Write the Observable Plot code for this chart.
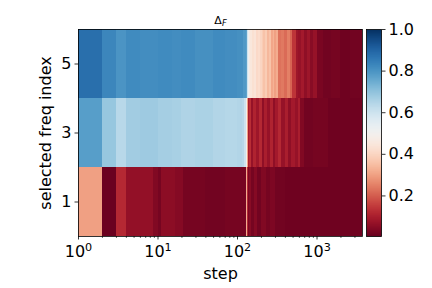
<!DOCTYPE html>
<html>
<head>
<meta charset="utf-8">
<script src="https://cdn.jsdelivr.net/npm/d3@7"></script>
<script src="https://cdn.jsdelivr.net/npm/@observablehq/plot@0.6"></script>
<style>
  html, body { margin: 0; padding: 0; background: white; }
  #wrap { position: relative; width: 432px; height: 288px; overflow: hidden; font-family: "DejaVu Sans", sans-serif; }
  #wrap > div, #wrap > svg { position: absolute; top: 0; }
</style>
</head>
<body>
<div id="wrap"></div>
<script>
// ---- data ----
const rowIndex = [1, 3, 5];
const titleParts = ["Δ", "F"];
const xLabel = "step";
const yLabel = "selected freq index";
const xMajorTicks = [1, 10, 100, 1000];
const xMajorExponents = ["0", "1", "2", "3"];
const xMinorTicks = [2,3,4,5,6,7,8,9,20,30,40,50,60,70,80,90,200,300,400,500,600,700,800,900,2000,3000];
const xDomain = [1, 3733];
const yTicks = [1, 3, 5];
const yTickLabels = ["1", "3", "5"];
const colorTicks = [0.2, 0.4, 0.6, 0.8, 1.0];
const colorTickLabels = ["0.2", "0.4", "0.6", "0.8", "1.0"];
const colorDomain = [0.005, 1];

// row 5 (top)
const edges5 = [1,2,3,4,6,10,15,20,30,50,70,100,118,128,133,137,141,147,155,165,175,185,195,205,215,228,240,252,265,280,295,310,332,360,390,420,460,497,547,590,640,700,760,830,900,1000,1200,1500,2000,2600,3733];
const values5 = [0.88,0.83,0.80,0.82,0.815,0.82,0.815,0.82,0.81,0.82,0.815,0.81,0.79,0.77,0.60,0.52,0.47,0.45,0.43,0.44,0.41,0.42,0.40,0.38,0.36,0.38,0.34,0.36,0.31,0.33,0.30,0.32,0.23,0.24,0.22,0.25,0.21,0.14,0.08,0.07,0.09,0.06,0.08,0.05,0.07,0.03,0.02,0.025,0.015,0.02];
// row 3 (middle)
const edges3 = [1,2,3,4,6,10,15,20,30,50,70,100,117,124,129,133,136,140,150,160,175,190,205,220,240,260,280,300,330,360,400,440,480,530,580,620,700,900,1400,3733];
const values3 = [0.78,0.69,0.64,0.675,0.68,0.67,0.665,0.655,0.66,0.65,0.645,0.65,0.64,0.60,0.50,0.30,0.10,0.13,0.07,0.11,0.08,0.12,0.06,0.10,0.07,0.11,0.06,0.09,0.12,0.07,0.10,0.06,0.09,0.07,0.10,0.04,0.02,0.025,0.015];
// row 1 (bottom)
const edges1 = [1,2,3,4,8.7,10,11,16.5,21,40,70,129,132,136,140,150,165,180,200,230,260,300,400,3733];
const values1 = [0.30,0.01,0.12,0.065,0.04,0.025,0.055,0.045,0.025,0.02,0.025,0.32,0.12,0.03,0.05,0.025,0.045,0.02,0.04,0.025,0.035,0.02,0.015];

// ---- build table for the library ----
const rows = [[1, edges1, values1], [3, edges3, values3], [5, edges5, values5]];
const cells = [];
for (const [r, e, v] of rows) {
  for (let i = 0; i < v.length; i++) {
    cells.push({x1: e[i], x2: e[i + 1], y1: r - 1, y2: r + 1, v: v[i]});
  }
}

const W = 432, H = 288;
const mTop = 29, mBottom = 52, mLeft = 78, mRight = 70;
const font = "DejaVu Sans";

const colorScale = {type: "linear", scheme: "RdBu", domain: colorDomain, clamp: true};

const main = Plot.plot({
  width: W, height: H,
  marginTop: mTop, marginBottom: mBottom, marginLeft: mLeft, marginRight: mRight,
  style: {fontFamily: font, background: "white", color: "black"},
  x: {type: "log", domain: xDomain, axis: null},
  y: {domain: [0, 6], axis: null},
  color: colorScale,
  marks: [
    Plot.rect(cells, {x1: "x1", x2: "x2", y1: "y1", y2: "y2", fill: "v", shapeRendering: "crispEdges"}),
    Plot.axisX({ticks: xMinorTicks, tickSize: 2, tickFormat: () => "", strokeWidth: 0.6, label: null}),
    Plot.axisX({ticks: xMajorTicks, tickSize: 3.5, tickPadding: 5.5, fontSize: 16, strokeWidth: 0.8,
      tickFormat: d => "10^" + xMajorExponents[xMajorTicks.indexOf(d)], label: null}),
    Plot.axisY({ticks: yTicks, tickSize: 3.5, tickFormat: () => "", strokeWidth: 0.8, label: null}),
    Plot.text(yTicks, {y: d => d, text: d => yTickLabels[yTicks.indexOf(d)], frameAnchor: "left", dx: -7, textAnchor: "end", lineAnchor: "middle", fontSize: 16, fill: "black"}),
    Plot.frame({stroke: "black", strokeWidth: 0.8}),
    Plot.text([yLabel], {text: d => d, frameAnchor: "left", rotate: -90, dx: -32.5, lineAnchor: "middle", textAnchor: "middle", fontSize: 16, fill: "black"}),
    Plot.text([xLabel], {text: d => d, frameAnchor: "bottom", dy: 42, lineAnchor: "bottom", textAnchor: "middle", fontSize: 16, fill: "black"}),
    Plot.text([titleParts[0]], {text: d => d, frameAnchor: "top", dy: -6, lineAnchor: "bottom", textAnchor: "middle", fontSize: 11, fill: "black"})
  ]
});
main.style.left = "0px";

// superscript exponents on x tick labels
d3.select(main).selectAll("text").each(function () {
  const t = this.textContent;
  if (!t.startsWith("10^")) return;
  const [b, e] = t.split("^");
  const s = d3.select(this);
  s.text(b);
  s.append("tspan").attr("dy", "-0.5em").attr("font-size", "70%").text(e);
});
// subscript F in title
d3.select(main).selectAll("text").each(function () {
  if (this.textContent !== titleParts[0]) return;
  d3.select(this).append("tspan").attr("dy", "0.3em").attr("font-size", "75%").attr("font-style", "italic").text(titleParts[1]);
});

const cbar = Plot.plot({
  width: 66, height: H,
  marginTop: mTop, marginBottom: mBottom, marginLeft: 0, marginRight: 51,
  style: {fontFamily: font, background: "transparent", color: "black"},
  x: {domain: [0, 1], axis: null},
  y: {domain: colorDomain, axis: null},
  color: colorScale,
  marks: [
    Plot.raster({x1: 0, x2: 1, y1: colorDomain[0], y2: colorDomain[1], width: 1, height: 256, fill: (x, y) => y, imageRendering: "auto"}),
    Plot.axisY({anchor: "right", ticks: colorTicks, tickFormat: () => "", tickSize: 3.5, strokeWidth: 0.8, label: null}),
    Plot.text(colorTicks, {y: d => d, text: d => colorTickLabels[colorTicks.indexOf(d)], frameAnchor: "right", dx: 7, textAnchor: "start", lineAnchor: "middle", fontSize: 16, fill: "black"}),
    Plot.frame({stroke: "black", strokeWidth: 0.8})
  ]
});
cbar.style.left = "366px";

const wrap = document.getElementById("wrap");
wrap.appendChild(main);
wrap.appendChild(cbar);
</script>
</body>
</html>
